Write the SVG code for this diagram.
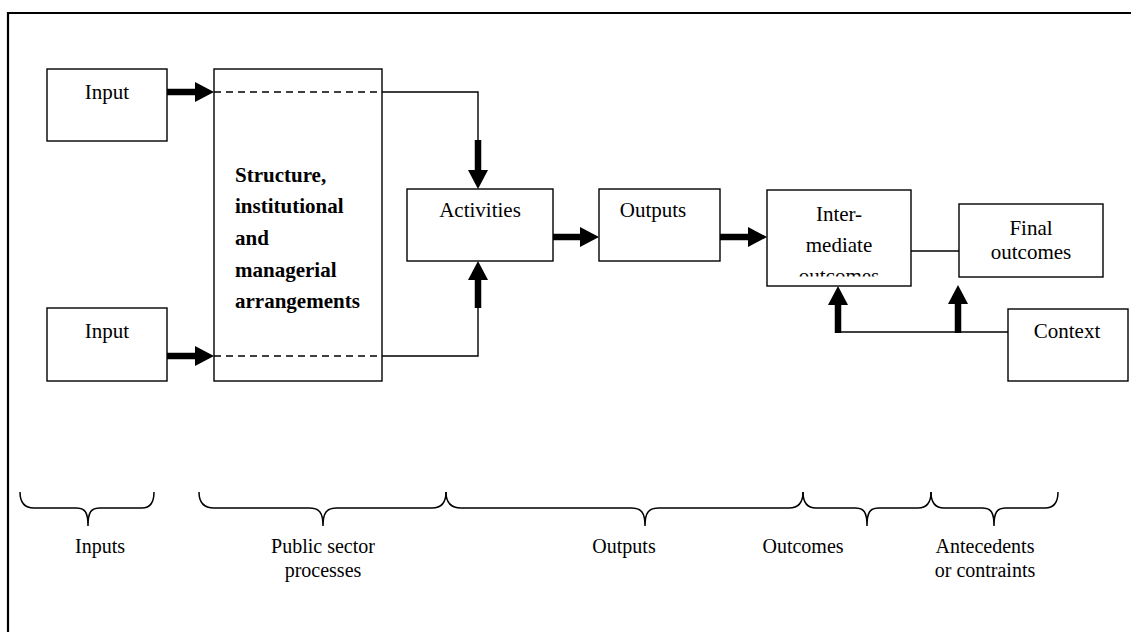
<svg xmlns="http://www.w3.org/2000/svg" width="1131" height="632" viewBox="0 0 1131 632">
<style>
.box{fill:#fff;stroke:#000;stroke-width:1.4}
.t{font-family:"Liberation Serif","Times New Roman",serif;font-size:21px;fill:#000}
.l{font-size:20px}
.c{text-anchor:middle}
.b{font-weight:bold}
.thin{fill:none;stroke:#000;stroke-width:1.4}
.dash{fill:none;stroke:#000;stroke-width:1.4;stroke-dasharray:7 5}
.thick{fill:none;stroke:#000;stroke-width:6.5}
.brace{fill:none;stroke:#000;stroke-width:1.5}
</style>
<defs>
<marker id="ah" markerUnits="userSpaceOnUse" markerWidth="19" markerHeight="20" refX="0" refY="10" orient="auto" viewBox="0 0 19 20">
<path d="M0,0 L19,10 L0,20 Z" fill="#000"/>
</marker>
<clipPath id="interClip"><rect x="767" y="190" width="144" height="86.5"/></clipPath>
</defs>
<rect width="1131" height="632" fill="#fff"/>
<path d="M8,632 V13 H1131" fill="none" stroke="#000" stroke-width="2.2"/>

<g id="input1"><rect class="box" x="47" y="69" width="120" height="72"/><text class="t c" x="107" y="99">Input</text></g>
<g id="input2"><rect class="box" x="47" y="308" width="120" height="73"/><text class="t c" x="107" y="338">Input</text></g>
<g id="structure"><rect class="box" x="214" y="69" width="168" height="312"/>
<text class="t b" x="235" y="182">Structure,</text>
<text class="t b" x="235" y="213">institutional</text>
<text class="t b" x="235" y="245">and</text>
<text class="t b" x="235" y="277">managerial</text>
<text class="t b" x="235" y="308">arrangements</text></g>
<g id="activities"><rect class="box" x="407" y="189" width="146" height="72"/><text class="t c" x="480" y="217">Activities</text></g>
<g id="outputs"><rect class="box" x="599" y="189" width="121" height="72"/><text class="t c" x="653" y="217">Outputs</text></g>
<g id="intermediate"><rect class="box" x="767" y="190" width="144" height="96"/>
<g clip-path="url(#interClip)"><text class="t c" x="839" y="221">Inter-</text><text class="t c" x="839" y="252">mediate</text><text class="t c" x="839" y="283">outcomes</text></g></g>
<g id="final"><rect class="box" x="959" y="204" width="144" height="73"/><text class="t c" x="1031" y="235">Final</text><text class="t c" x="1031" y="259">outcomes</text></g>
<g id="context"><rect class="box" x="1008" y="309" width="120" height="72"/><text class="t c" x="1067" y="338">Context</text></g>

<g id="connectors">
<path class="thick" d="M167,92 H195" marker-end="url(#ah)"/>
<path class="thick" d="M167,356 H195" marker-end="url(#ah)"/>
<path class="dash" d="M214,92 H382"/>
<path class="dash" d="M214,356 H382"/>
<path class="thin" d="M382,92 H478 V141"/>
<path class="thick" d="M478,140 V170" marker-end="url(#ah)"/>
<path class="thin" d="M382,356 H478 V307"/>
<path class="thick" d="M478,308 V280" marker-end="url(#ah)"/>
<path class="thick" d="M553,237 H580" marker-end="url(#ah)"/>
<path class="thick" d="M720,237 H748" marker-end="url(#ah)"/>
<path class="thin" d="M911,251 H959"/>
<path class="thin" d="M1008,332 H838"/>
<path class="thick" d="M838,333 V305" marker-end="url(#ah)"/>
<path class="thick" d="M958,333 V304" marker-end="url(#ah)"/>
</g>

<g id="braces">
<path class="brace" d="M20,492 Q20,508 34,508 H76 C85,508 88,512 88,526 C88,512 91,508 100,508 H142 Q154,508 154,492"/>
<path class="brace" d="M199,492 Q199,508 214,508 H309 C319,508 323,512 323,526 C323,512 327,508 337,508 H432 Q446,508 446,492"/>
<path class="brace" d="M446,492 Q446,508 461,508 H631 C641,508 645,512 645,526 C645,512 649,508 659,508 H789 Q803,508 803,492"/>
<path class="brace" d="M803,492 Q803,508 816,508 H855 C864,508 867,512 867,526 C867,512 870,508 879,508 H918 Q931,508 931,492"/>
<path class="brace" d="M931,492 Q931,508 944,508 H982 C991,508 994,512 994,526 C994,512 997,508 1006,508 H1045 Q1058,508 1058,492"/>
</g>

<g id="labels">
<text class="t l c" x="100" y="553">Inputs</text>
<text class="t l c" x="323" y="553">Public sector</text>
<text class="t l c" x="323" y="577">processes</text>
<text class="t l c" x="624" y="553">Outputs</text>
<text class="t l c" x="803" y="553">Outcomes</text>
<text class="t l c" x="985" y="553">Antecedents</text>
<text class="t l c" x="985" y="577">or contraints</text>
</g>
</svg>
